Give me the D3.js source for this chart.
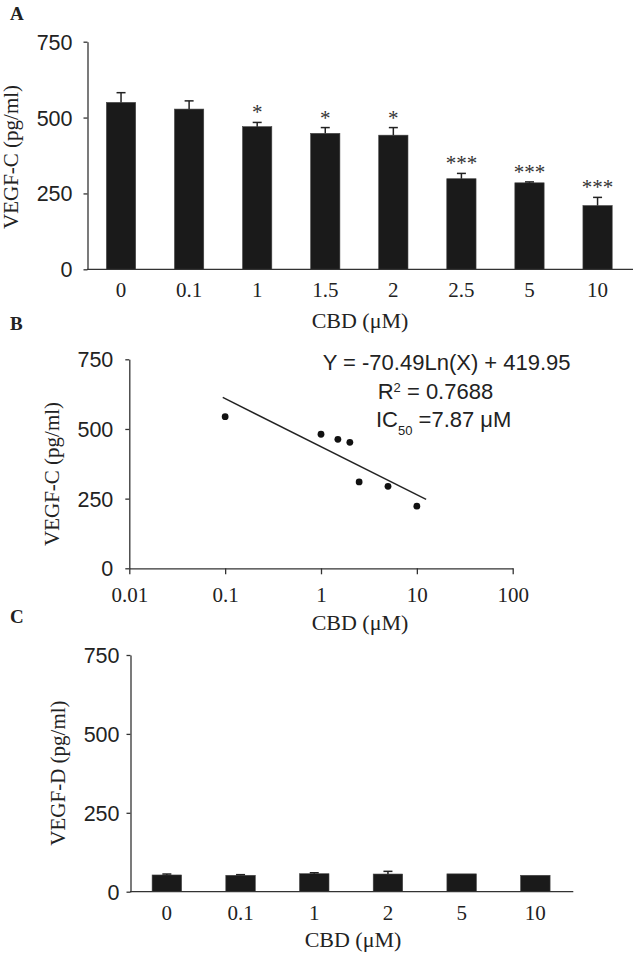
<!DOCTYPE html>
<html>
<head>
<meta charset="utf-8">
<script src="https://cdn.jsdelivr.net/npm/d3@7"></script>
<style>
  html, body { margin: 0; padding: 0; background: #fff; }
  svg { display: block; }
  .serif { font-family: "Liberation Serif", "Times New Roman", serif; }
  .sans { font-family: "Liberation Sans", Arial, sans-serif; }
</style>
</head>
<body>
<script>
// ---------- Data ----------
// Panel A: VEGF-C bar chart
const catsA = ["0", "0.1", "1", "1.5", "2", "2.5", "5", "10"];
const valuesA = [550, 528, 470, 448, 442, 298.5, 285, 210];
const errorsA = [32, 27, 14, 19, 25, 17.5, 3, 27];
const sigA = ["", "", "*", "*", "*", "***", "***", "***"];

// Panel B: VEGF-C vs CBD, log scale scatter + fit
const doseB = [0.1, 1, 1.5, 2, 2.5, 5, 10];
const valuesB = [544, 481, 463, 452, 310, 294, 223];
const trendX = [0.0944, 12.5];
const trendY = [613, 247];
const ticksBx = [0.01, 0.1, 1, 10, 100];
const ticksBxLabels = ["0.01", "0.1", "1", "10", "100"];

// Panel C: VEGF-D bar chart
const catsC = ["0", "0.1", "1", "2", "5", "10"];
const valuesC = [53, 52, 57, 56, 56.5, 52];
const errorsC = [3, 2, 3, 8.5, 0, 0];

const yTicks = [0, 250, 500, 750];
const yTickLabels = ["0", "250", "500", "750"];

// ---------- Setup ----------
const W = 633, H = 954;
const svg = d3.select("body").append("svg").attr("width", W).attr("height", H);
const ink = "#222";
const barFill = "#1a1a1a";
const axisStroke = "#333";

function styleAxis(g) {
  g.selectAll("path.domain").attr("stroke", axisStroke).attr("stroke-width", 1.3);
  g.selectAll(".tick line").attr("stroke", axisStroke).attr("stroke-width", 1.3);
}

function yAxis(g, scale, x, pad) {
  const ax = d3.axisLeft(scale).tickValues(yTicks)
    .tickFormat((d, i) => yTickLabels[i]).tickSize(4).tickSizeOuter(0).tickPadding(pad);
  g.attr("transform", `translate(${x},0)`).call(ax);
  styleAxis(g);
  g.selectAll(".tick text").attr("class", "sans").attr("font-size", 21.5).attr("fill", ink)
    .attr("font-family", null).attr("dy", "0.35em");
  g.attr("font-family", null).attr("font-size", null);
}

function xBandAxis(g, scale, y, baselineOff) {
  const ax = d3.axisBottom(scale).tickSize(0).tickSizeOuter(0);
  g.attr("transform", `translate(0,${y})`).call(ax);
  styleAxis(g);
  g.attr("font-family", null).attr("font-size", null);
  g.selectAll(".tick text").attr("class", "serif").attr("font-size", 21).attr("fill", ink)
    .attr("y", baselineOff).attr("dy", 0);
}

function bars(g, cats, vals, errs, x, y) {
  g.selectAll("rect").data(cats).join("rect")
    .attr("x", d => x(d)).attr("width", x.bandwidth())
    .attr("y", (d, i) => y(vals[i])).attr("height", (d, i) => y(0) - y(vals[i]))
    .attr("fill", barFill).attr("stroke", "#444").attr("stroke-width", 0.6);
  const eb = g.selectAll("g.err").data(cats).join("g").attr("class", "err");
  eb.filter((d, i) => errs[i] > 0).append("line")
    .attr("x1", d => x(d) + x.bandwidth() / 2).attr("x2", d => x(d) + x.bandwidth() / 2)
    .attr("y1", (d, i) => y(vals[cats.indexOf(d)]))
    .attr("y2", d => y(vals[cats.indexOf(d)] + errs[cats.indexOf(d)]))
    .attr("stroke", ink).attr("stroke-width", 1.5);
  eb.filter((d, i) => errs[i] > 0).append("line")
    .attr("x1", d => x(d) + x.bandwidth() / 2 - 4.5).attr("x2", d => x(d) + x.bandwidth() / 2 + 4.5)
    .attr("y1", d => y(vals[cats.indexOf(d)] + errs[cats.indexOf(d)]))
    .attr("y2", d => y(vals[cats.indexOf(d)] + errs[cats.indexOf(d)]))
    .attr("stroke", ink).attr("stroke-width", 1.5);
}

function panelLabel(t, x, y) {
  svg.append("text").attr("class", "serif").attr("x", x).attr("y", y)
    .attr("font-size", 19).attr("font-weight", "bold").attr("fill", ink).text(t);
}
function yTitle(t, x, cy) {
  svg.append("text").attr("class", "serif")
    .attr("transform", `translate(${x},${cy}) rotate(-90)`)
    .attr("text-anchor", "middle").attr("font-size", 21).attr("fill", ink).text(t);
}
function xTitle(cx, y) {
  svg.append("text").attr("class", "serif").attr("x", cx).attr("y", y)
    .attr("text-anchor", "middle").attr("font-size", 22).attr("fill", ink).text("CBD (\u03bcM)");
}

// ---------- Panel A ----------
const xA = d3.scaleBand(catsA, [87, 631.6]).paddingInner(0.57).paddingOuter(0.285);
const yA = d3.scaleLinear([0, 750], [269.3, 41.7]);
const gA = svg.append("g");
bars(gA.append("g"), catsA, valuesA, errorsA, xA, yA);
xBandAxis(gA.append("g"), xA, yA(0), 28.2);
gA.select("path.domain").attr("d", `M87,0H633`);
yAxis(gA.append("g"), yA, 87.5, 11);
gA.append("g").selectAll("text").data(catsA).join("text")
  .attr("class", "serif").attr("text-anchor", "middle").attr("font-size", 21).attr("fill", "#333")
  .attr("x", d => xA(d) + xA.bandwidth() / 2)
  .attr("y", (d, i) => yA(valuesA[i] + errorsA[i]) - 3)
  .text((d, i) => sigA[i]);
panelLabel("A", 10, 19.5);
yTitle("VEGF-C (pg/ml)", 18, 157);
xTitle(360, 328);

// ---------- Panel B ----------
const xB = d3.scaleLog([0.01, 100], [129.3, 512.7]);
const yB = d3.scaleLinear([0, 750], [568.3, 359.3]);
const gB = svg.append("g");
const axB = d3.axisBottom(xB).tickValues(ticksBx)
  .tickFormat((d, i) => ticksBxLabels[i]).tickSize(6).tickSizeOuter(0);
const gBx = gB.append("g").attr("transform", `translate(0,${yB(0)})`).call(axB);
styleAxis(gBx);
gBx.attr("font-family", null).attr("font-size", null);
gBx.selectAll(".tick text").attr("class", "serif").attr("font-size", 21).attr("fill", ink)
  .attr("y", 33.4).attr("dy", 0);
yAxis(gB.append("g"), yB, 129.3, 12);
gB.append("path")
  .datum(trendX.map((x, i) => [x, trendY[i]]))
  .attr("d", d3.line().x(d => xB(d[0])).y(d => yB(d[1])))
  .attr("fill", "none").attr("stroke", ink).attr("stroke-width", 1.4);
gB.selectAll("circle").data(doseB).join("circle")
  .attr("cx", d => xB(d)).attr("cy", (d, i) => yB(valuesB[i])).attr("r", 3.4).attr("fill", "#111");
const ann = gB.append("g").attr("class", "sans").attr("fill", ink).attr("font-size", 22);
ann.append("text").attr("x", 322.7).attr("y", 370).text("Y = -70.49Ln(X) + 419.95");
const r2 = ann.append("text").attr("x", 377.7).attr("y", 399);
r2.append("tspan").text("R");
r2.append("tspan").attr("font-size", 13).attr("dy", -7).text("2");
r2.append("tspan").attr("dy", 7).text(" = 0.7688");
const ic = ann.append("text").attr("x", 376).attr("y", 426.7);
ic.append("tspan").text("IC");
ic.append("tspan").attr("font-size", 13).attr("dy", 8.3).text("50");
ic.append("tspan").attr("dy", -8.3).text(" =7.87 \u03bcM");
panelLabel("B", 10, 330);
yTitle("VEGF-C (pg/ml)", 59, 474);
xTitle(360, 630);

// ---------- Panel C ----------
const xC = d3.scaleBand(catsC, [130, 572.2]).paddingInner(0.6).paddingOuter(0.3);
const yC = d3.scaleLinear([0, 750], [891.7, 655]);
const gC = svg.append("g");
bars(gC.append("g"), catsC, valuesC, errorsC, xC, yC);
xBandAxis(gC.append("g"), xC, yC(0), 28.3);
gC.select("path.domain").attr("d", `M130,0H573.3`);
yAxis(gC.append("g"), yC, 130.5, 7);
panelLabel("C", 10, 623);
yTitle("VEGF-D (pg/ml)", 65, 773);
xTitle(353, 946.7);
</script>
</body>
</html>
